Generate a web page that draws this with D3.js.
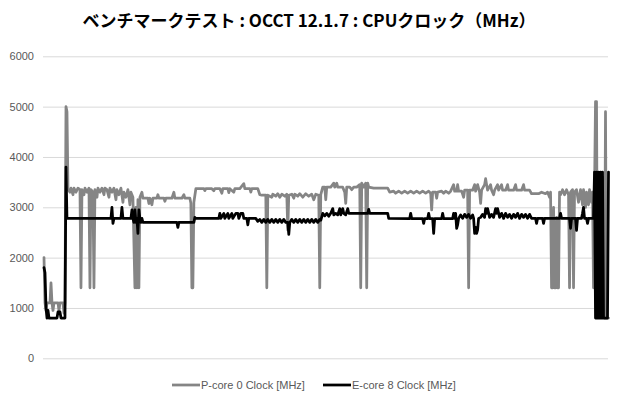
<!DOCTYPE html>
<html>
<head>
<meta charset="utf-8">
<script src="https://cdn.jsdelivr.net/npm/d3@7"></script>
<style>
  html, body { margin: 0; padding: 0; background: #fff; }
  #chart { width: 620px; height: 399px; }
</style>
</head>
<body>
<div id="chart"></div>
<script>
const chartTitle = "ベンチマークテスト : OCCT 12.1.7 : CPUクロック（MHz）";
const yTicks = [0, 1000, 2000, 3000, 4000, 5000, 6000];
const seriesNames = ["P-core 0 Clock [MHz]", "E-core 8 Clock [MHz]"];
const seriesColors = ["#858585", "#000000"];

// [sample, MHz]
const pCore0 = [
  [0,2000],[1,1100],[2,950],[3,1100],[6,1100],[7,1500],[8,1100],[9,950],[10,1100],[14,1100],[15,950],[16,1100],[19,1100],[20,900],[21,1100],[22,5000],[23,4900],[24,3350],
  [26,3300],[27,3380],[29,3250],[30,3380],[32,3300],[34,3380],[36,3350],[37,1400],[38,3350],[40,3250],[41,3380],[43,3300],[45,3380],[46,1400],[47,3350],[49,3300],[50,1400],[51,3350],[53,3200],[54,3380],[56,3300],[58,3380],[60,3250],[61,3380],[63,3350],[65,3200],[66,3380],[68,3300],[70,3380],[72,3150],[73,3350],[75,3250],[77,3380],[79,3100],[80,3300],[82,3200],[84,3350],[86,3050],[87,3300],[89,3200],[91,1400],[92,3000],[93,1400],[94,3150],[95,1400],[96,3200],[98,3300],[99,3180],
  [104,3180],[105,3075],[106,3180],[108,3050],[109,3180],[113,3180],[114,3250],[115,3180],[120,3180],[121,3120],[122,3180],[128,3180],[130,3300],[131,3180],[138,3180],[140,3250],[141,3180],[146,3180],[147,3080],[148,1400],[149,1400],[150,3100],[152,3370],
  [160,3370],[161,3330],[162,3370],[168,3370],[170,3330],[171,3370],[176,3370],[178,3280],[179,3370],[184,3370],[185,3290],[186,3370],[190,3300],[191,3370],[196,3370],[198,3420],[200,3470],[201,3370],[206,3370],[207,3300],[208,3370],[214,3370],[216,3250],
  [218,3240],[222,3240],[223,1400],[224,3240],[228,3200],[229,3260],[232,3220],[234,3270],[236,3200],[238,3260],[241,3220],[243,3260],[244,2550],[245,3240],[248,3260],[250,3180],[251,3260],[254,3220],[256,3270],[259,3200],[262,3270],[265,3220],[268,3260],[270,3150],[272,3260],[275,3240],[276,1400],[277,3250],
  [279,3400],[281,3400],[282,3150],[283,3400],[287,3400],[290,3480],[291,3400],[293,3480],[294,3400],[299,3400],[301,3300],[302,3080],[303,3400],[306,3400],[308,3350],[310,3400],[313,3400],[316,3450],[317,1400],[318,3480],[320,3400],[322,3480],[323,1400],[324,3480],[325,3400],
  [330,3380],[335,3380],[340,3380],[344,3380],[346,3300],[350,3320],[352,3280],[355,3320],[358,3280],[361,3320],[364,3280],[367,3320],[370,3280],[373,3320],[376,3280],[379,3320],[382,3280],[385,3320],[387,3280],[388,2950],[389,3300],[392,3300],[393,3180],[394,3300],[398,3320],[400,3280],[402,3320],[405,3280],[407,3320],
  [410,3450],[411,3320],[413,3320],[414,3450],[415,3320],[418,3320],[420,3200],[421,3340],[424,3340],[425,1400],[426,3340],[429,3340],[431,3450],[432,3320],[434,3450],[436,3300],[437,3080],[438,3340],[441,3450],[442,3570],[443,3450],[444,3340],[447,3450],[448,3340],[450,3250],[451,3340],[454,3450],[455,3340],[458,3450],[459,3340],[462,3340],[464,3450],[465,3340],[470,3340],[472,3450],[473,3340],[478,3340],[480,3450],[481,3340],[486,3340],
  [488,3270],[495,3270],[498,3300],[502,3270],[504,3300],[506,3200],[507,3300],[508,1400],[509,1400],[510,3000],[511,1400],[512,1400],[513,2800],[514,1400],[515,1400],[516,3300],[517,3250],[519,3350],[521,3250],[523,3350],[525,3250],[526,1400],[527,3300],[529,3350],[530,1400],[531,3300],[533,3350],[535,3100],[537,3350],[539,3050],[540,3350],[542,3000],[543,3300],[545,3050],[546,3350],[548,3100],[549,3300],[550,1400],
  [551,3300],[552,5100],[553,5100],[554,900],[555,3600],[556,900],[557,3600],[558,900],[559,3600],[560,900],[561,800],[562,4900],[563,800],[565,800]
];

const eCore8 = [
  [0,1800],[1,1700],[2,1000],[3,800],[4,950],[5,800],[13,800],[14,920],[16,920],[17,800],[21,800],[22,3800],[23,2780],
  [67,2780],[68,3000],[69,2680],[70,2780],[77,2780],[78,3000],[79,2780],[87,2780],[88,2950],[89,2780],[90,2700],[91,2950],[92,2700],[93,2780],[94,2480],[95,2950],[96,2780],[97,2700],[98,2780],[99,2700],
  [133,2700],[134,2600],[135,2700],[150,2700],[151,2800],[152,2780],
  [175,2780],[176,2880],[177,2780],[180,2880],[181,2780],[184,2880],[185,2780],[188,2880],[189,2780],[192,2880],[194,2880],[195,2780],[197,2880],[199,2880],[200,2780],[203,2780],[204,2650],[205,2780],[212,2780],[214,2720],
  [216,2760],[218,2700],[220,2760],[222,2700],[224,2760],[226,2700],[228,2760],[230,2700],[232,2760],[234,2700],[236,2760],[238,2700],[240,2760],[242,2700],[244,2700],[245,2460],[246,2700],[248,2760],[250,2700],[252,2760],[254,2700],[256,2760],[258,2700],[260,2760],[262,2700],[264,2760],[266,2700],[268,2760],[270,2700],[272,2760],[274,2700],[276,2760],
  [277,2740],[279,2880],[281,2830],[283,2880],[285,2820],[287,2880],[289,2975],[290,2850],[292,2880],[294,2850],[296,2975],[297,2850],[299,2975],[300,2880],[302,2850],[304,2975],[305,2880],
  [324,2880],[325,2960],[326,2880],[344,2880],[345,2780],
  [366,2775],[367,2880],[368,2775],[379,2775],[380,2680],[381,2775],[384,2775],[385,2880],[386,2775],[389,2775],[390,2480],[391,2775],[398,2775],[399,2880],[400,2775],[409,2775],
  [410,2880],[411,2780],[412,2880],[413,2580],[414,2650],[415,2780],[417,2850],[419,2780],[421,2860],[423,2800],[425,2860],[427,2780],[429,2850],[430,2780],
  [431,2480],[432,2600],[433,2480],[434,2550],[435,2780],
  [437,2800],[439,2860],[441,2800],[442,2975],[443,2880],[444,2975],[446,2800],[448,2860],[450,2800],[452,2975],[453,2880],[454,2975],[456,2800],[458,2880],[460,2780],[462,2880],[464,2800],[466,2860],[468,2780],[470,2860],[472,2800],[474,2880],[476,2780],[478,2860],[480,2800],[482,2860],[484,2780],[486,2860],[488,2780],
  [492,2780],[493,2680],[494,2780],[499,2780],[500,2680],[501,2780],
  [516,2780],[517,2880],[518,2780],[526,2780],[527,2580],[528,2780],[532,2780],[533,2540],[534,2780],[538,2780],[539,2880],[540,3000],[541,2780],[543,2780],[544,2680],[545,2780],[550,2780],
  [551,3700],[552,800],[553,3700],[554,800],[555,3700],[556,800],[557,3700],[558,800],[559,3700],[560,800],[564,800],[565,3700]
];

function drawChart(width, height) {
  const plot = { left: 43, right: 608, top: 56.3, bottom: 358.3 };

  const svg = d3.select("#chart")
    .append("svg")
    .attr("width", width)
    .attr("height", height)
    .attr("viewBox", `0 0 ${width} ${height}`);

  svg.append("rect")
    .attr("width", width)
    .attr("height", height)
    .attr("fill", "#fff");

  const xScale = d3.scaleLinear()
    .domain([0, 565])
    .range([plot.left + 1, plot.right + 0.5]);

  const yScale = d3.scaleLinear()
    .domain([0, 6000])
    .range([plot.bottom, plot.top]);

  const yAxis = d3.axisLeft(yScale)
    .tickValues(yTicks)
    .tickSize(-(plot.right - plot.left))
    .tickPadding(9)
    .tickFormat(d3.format("d"));

  const yAxisG = svg.append("g")
    .attr("class", "y-axis")
    .attr("transform", `translate(${plot.left},0)`)
    .call(yAxis);

  yAxisG.select(".domain").remove();
  yAxisG.selectAll(".tick line")
    .attr("stroke", "#d9d9d9")
    .attr("stroke-width", 1);
  yAxisG.selectAll(".tick text")
    .attr("fill", "#595959")
    .style("font-family", "'Liberation Sans', Arial, sans-serif")
    .style("font-size", "11px");

  const line = d3.line()
    .x(d => xScale(d[0]))
    .y(d => yScale(d[1]));

  [pCore0, eCore8].forEach((series, i) => {
    svg.append("path")
      .datum(series)
      .attr("fill", "none")
      .attr("stroke", seriesColors[i])
      .attr("stroke-width", 2.75)
      .attr("stroke-linejoin", "round")
      .attr("stroke-linecap", "round")
      .attr("d", line);
  });

  svg.append("text")
    .attr("x", 309)
    .attr("y", 27)
    .attr("text-anchor", "middle")
    .attr("fill", "#000")
    .style("font-family", "'Noto Sans CJK JP', sans-serif")
    .style("font-weight", "bold")
    .style("font-size", "17px")
    .text(chartTitle);

  const legendX = [172, 323];
  const legend = svg.append("g")
    .selectAll(".legend-item")
    .data(seriesNames)
    .enter()
    .append("g")
    .attr("class", "legend-item")
    .attr("transform", (d, i) => `translate(${legendX[i]},385)`);

  legend.append("line")
    .attr("x1", 0)
    .attr("x2", 28)
    .attr("stroke", (d, i) => seriesColors[i])
    .attr("stroke-width", 2.75);

  legend.append("text")
    .attr("x", 29)
    .attr("dy", "0.35em")
    .attr("fill", "#595959")
    .style("font-family", "'Liberation Sans', Arial, sans-serif")
    .style("font-size", "11px")
    .text(d => d);
}

drawChart(620, 399);
</script>
</body>
</html>
